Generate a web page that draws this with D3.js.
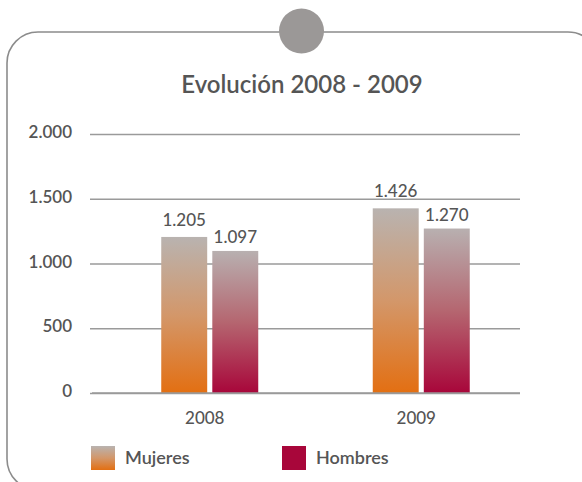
<!DOCTYPE html>
<html>
<head>
<meta charset="utf-8">
<script src="https://cdn.jsdelivr.net/npm/d3@7"></script>
<style>
  html, body { margin: 0; padding: 0; background: #fff; }
  svg { display: block; }
  text { font-family: Lato, "Open Sans", sans-serif; fill: #555; }
</style>
</head>
<body>
<svg id="chart" width="582" height="482"></svg>
<script>
const title = "Evolución 2008 - 2009";
const years = ["2008", "2009"];
const seriesNames = ["Mujeres", "Hombres"];
const mujeres = [1205, 1426];
const hombres = [1097, 1270];
const tickValues = [0, 500, 1000, 1500, 2000];
const tickLabels = ["0", "500", "1.000", "1.500", "2.000"];
const valueLabels = { Mujeres: ["1.205", "1.426"], Hombres: ["1.097", "1.270"] };

const svg = d3.select("#chart");
const defs = svg.append("defs");

function grad(id, top, mid, bottom) {
  const g = defs.append("linearGradient").attr("id", id)
    .attr("x1", 0).attr("y1", 0).attr("x2", 0).attr("y2", 1);
  g.append("stop").attr("offset", "0%").attr("stop-color", top);
  g.append("stop").attr("offset", "50%").attr("stop-color", mid);
  g.append("stop").attr("offset", "100%").attr("stop-color", bottom);
}
grad("gMuj", "#b9b3b0", "#d3976a", "#e36f12");
grad("gHom", "#b8b0b0", "#b56670", "#a8063a");
const fills = { Mujeres: "url(#gMuj)", Hombres: "url(#gHom)" };
const legendFills = { Mujeres: "url(#gMuj)", Hombres: "#a8063a" };

// Frame
svg.append("rect")
  .attr("x", 7).attr("y", 32).attr("width", 592).attr("height", 458)
  .attr("rx", 31).attr("ry", 31)
  .attr("fill", "none").attr("stroke", "#8c8c8c").attr("stroke-width", 1.6);
svg.append("circle").attr("cx", 301.5).attr("cy", 31).attr("r", 22.5).attr("fill", "#9b9897");

// Title
svg.append("text").attr("x", 302).attr("y", 93).attr("text-anchor", "middle")
  .style("font-size", "24px").style("font-weight", "600").text(title);

// Scales
const y = d3.scaleLinear().domain([0, 2000]).range([393, 134]);
const x0 = d3.scaleBand().domain(years).range([104, 527]).padding(0);
const x1 = d3.scaleBand().domain(seriesNames).range([-48.5, 48.5]).paddingInner(0.1);

// Gridlines via axis
const gAxis = svg.append("g").attr("transform", "translate(520,0)");
gAxis.call(d3.axisRight(y).tickValues(tickValues).tickSize(-430).tickFormat(""));
gAxis.select(".domain").remove();
gAxis.selectAll(".tick line").attr("stroke", "#9a9a9a").attr("stroke-width", 1.3);

const gLab = svg.append("g");
gLab.selectAll("text").data(tickValues).join("text")
  .attr("x", 72).attr("y", d => y(d) + 4)
  .attr("text-anchor", "end")
  .style("font-size", "17px").style("font-weight", "600")
  .text((d, i) => tickLabels[i]);

// Bars
const data = years.map((yr, i) => ({
  year: yr,
  values: [
    { name: "Mujeres", v: mujeres[i], label: valueLabels.Mujeres[i] },
    { name: "Hombres", v: hombres[i], label: valueLabels.Hombres[i] }
  ]
}));

const groups = svg.append("g").selectAll("g").data(data).join("g")
  .attr("transform", d => `translate(${x0(d.year) + x0.bandwidth() / 2},0)`);

groups.selectAll("rect").data(d => d.values).join("rect")
  .attr("x", d => x1(d.name))
  .attr("width", x1.bandwidth())
  .attr("y", d => y(d.v))
  .attr("height", d => y(0) - y(d.v))
  .attr("fill", d => fills[d.name]);

groups.selectAll("text.val").data(d => d.values).join("text")
  .attr("class", "val")
  .attr("x", d => x1(d.name) + x1.bandwidth() / 2)
  .attr("y", d => y(d.v) - (d.name === "Mujeres" ? 11 : 8))
  .attr("text-anchor", "middle")
  .style("font-size", "17px").style("font-weight", "500")
  .text(d => d.label);

// Baseline redraw on top of bars
svg.append("line").attr("x1", 92).attr("x2", 520).attr("y1", y(0)).attr("y2", y(0))
  .attr("stroke", "#9a9a9a").attr("stroke-width", 1.3);

// Year labels
svg.append("g").selectAll("text").data(years).join("text")
  .attr("x", d => x0(d) + x0.bandwidth() / 2 - 5)
  .attr("y", 424)
  .attr("text-anchor", "middle")
  .style("font-size", "17px").style("font-weight", "500")
  .text(d => d);

// Legend
const legX = [91, 282];
const leg = svg.append("g").selectAll("g").data(seriesNames).join("g")
  .attr("transform", (d, i) => `translate(${legX[i]},446)`);
leg.append("rect").attr("width", 24).attr("height", 24).attr("fill", d => legendFills[d]);
leg.append("text").attr("x", 34).attr("y", 17.5)
  .style("font-size", "18px").style("font-weight", "600").text(d => d);
</script>
</body>
</html>
